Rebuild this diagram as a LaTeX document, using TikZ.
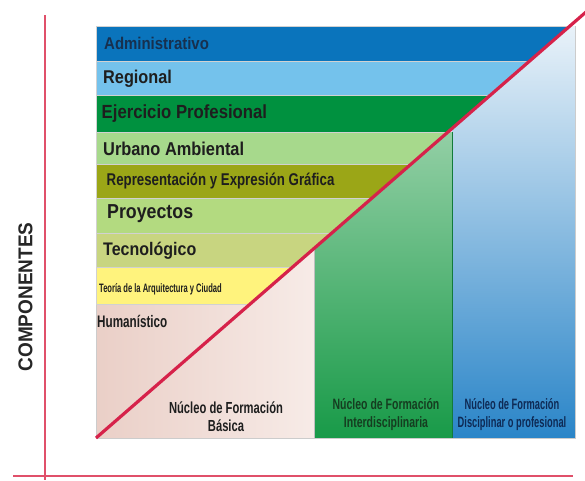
\documentclass[tikz,border=0pt]{standalone}
\usepackage{fontspec}
\setmainfont{Liberation Sans}
\newfontfamily\fN[FakeStretch=0.88]{Liberation Sans}
\newfontfamily\fM[FakeStretch=0.78]{Liberation Sans}
\newfontfamily\fK[FakeStretch=0.70]{Liberation Sans}
\newfontfamily\fJ[FakeStretch=0.62]{Liberation Sans}
\newfontfamily\fW[FakeStretch=0.95]{Liberation Sans}
\definecolor{cAdm}{HTML}{0A74BC}
\definecolor{cReg}{HTML}{74C2EC}
\definecolor{cEje}{HTML}{00913F}
\definecolor{cUrb}{HTML}{A7D98C}
\definecolor{cRep}{HTML}{9BA617}
\definecolor{cPro}{HTML}{B3DA80}
\definecolor{cTec}{HTML}{C8D580}
\definecolor{cTeo}{HTML}{FFF37D}
\definecolor{pinkA}{HTML}{EACFC7}
\definecolor{pinkB}{HTML}{F7EBE7}
\definecolor{grnA}{HTML}{93CFA5}
\definecolor{grnB}{HTML}{189A48}
\definecolor{bluA}{HTML}{E9F2F9}
\definecolor{bluB}{HTML}{2A85C8}
\definecolor{redL}{HTML}{D6224A}
\definecolor{redAx}{HTML}{E0506A}
\definecolor{txtD}{HTML}{1E1E1E}
\definecolor{txtNavy}{HTML}{17304F}
\definecolor{txtGrn}{HTML}{153D20}
\definecolor{txtBlu}{HTML}{0E2A55}
\begin{document}
\begin{tikzpicture}[x=1pt,y=-1pt,
  band/.style={draw=black!18, line width=0.5pt},
  bandtxt/.style={anchor=base west, inner sep=0pt, text=txtD},
  coltxt/.style={anchor=center, inner sep=0pt, align=center},
  edge/.style={draw=black!20, line width=0.5pt}]
\useasboundingbox (0,0) rectangle (585,480);
% diagonal end points
\coordinate (dA) at (96,438);
\coordinate (dB) at (586,12);
% columns
\shade[left color=pinkA, right color=pinkB] (96,250) rectangle (314,438);
\shade[top color=grnA, bottom color=grnB] (314,132) rectangle (452,438);
\shade[top color=bluA, bottom color=bluB] (452,26) rectangle (575,438);
\draw[edge] (96,438) -- (575,438) -- (575,26);
\draw[draw=black!25, line width=0.5pt] (314,250) -- (314,438);
\draw[draw=grnB!80!black, line width=0.5pt] (452,132) -- (452,438);
\draw[edge] (96,250) -- (96,438);
% bands, above the diagonal
\begin{scope}
\clip (dA) -- (dB) -- (586,0) -- (90,0) -- (90,438) -- cycle;
\filldraw[band, fill=cAdm] (96,26) rectangle (575,61);
\filldraw[band, fill=cReg] (96,61) rectangle (575,95);
\filldraw[band, fill=cEje] (96,95) rectangle (575,132);
\filldraw[band, fill=cUrb] (96,132) rectangle (575,164);
\filldraw[band, fill=cRep] (96,164) rectangle (575,198);
\filldraw[band, fill=cPro] (96,198) rectangle (575,233);
\filldraw[band, fill=cTec] (96,233) rectangle (575,267);
\filldraw[band, fill=cTeo] (96,267) rectangle (575,304);
\end{scope}
% diagonal
\draw[redL, line width=3.2pt] (dA) -- (dB);
% axes
\coordinate (vTop) at (45,15);
\coordinate (vBot) at (45,480);
\coordinate (hL) at (13,476);
\coordinate (hR) at (573,476);
\draw[redAx, line width=1.6pt] (vTop) -- (vBot);
\draw[redAx, line width=1.6pt] (hL) -- (hR);
% band labels
\node[bandtxt, text=txtNavy, font=\fN\bfseries\fontsize{17}{17}\selectfont] (adm) at (104,49) {Administrativo};
\node[bandtxt, font=\fN\bfseries\fontsize{18.5}{18.5}\selectfont] (reg) at (103,83) {Regional};
\node[bandtxt, font=\fN\bfseries\fontsize{19}{19}\selectfont] (eje) at (101.5,118) {Ejercicio Profesional};
\node[bandtxt, font=\fN\bfseries\fontsize{18.6}{18.6}\selectfont] (urb) at (103,155) {Urbano Ambiental};
\node[bandtxt, font=\fM\bfseries\fontsize{17}{17}\selectfont] (rep) at (106.5,185) {Representación y Expresión Gráfica};
\node[bandtxt, font=\fN\bfseries\fontsize{20.2}{20.2}\selectfont] (pro) at (107,218) {Proyectos};
\node[bandtxt, font=\fN\bfseries\fontsize{18.2}{18.2}\selectfont] (tec) at (103,255) {Tecnológico};
\node[bandtxt, font=\fJ\bfseries\fontsize{12.2}{12.2}\selectfont] (teo) at (99,292) {Teoría de la Arquitectura y Ciudad};
\node[bandtxt, font=\fK\bfseries\fontsize{16.7}{16.7}\selectfont] (hum) at (97,327) {Humanístico};
% column labels
\node[coltxt, text=txtD, font=\fK\bfseries\fontsize{16}{18}\selectfont] (bas) at (226,417) {Núcleo de Formación\\Básica};
\node[coltxt, text=txtGrn, font=\fK\bfseries\fontsize{15}{18}\selectfont] (inter) at (386,415) {Núcleo de Formación\\Interdisciplinaria};
\node[coltxt, text=txtBlu, font=\fJ\bfseries\fontsize{15}{18}\selectfont] (disc) at (512,415) {Núcleo de Formación\\Disciplinar o profesional};
% axis label
\node[rotate=90, inner sep=0pt, text=black!85, font=\fW\bfseries\fontsize{20}{20}\selectfont] (comp) at (25.5,297) {COMPONENTES};
\end{tikzpicture}
\end{document}
